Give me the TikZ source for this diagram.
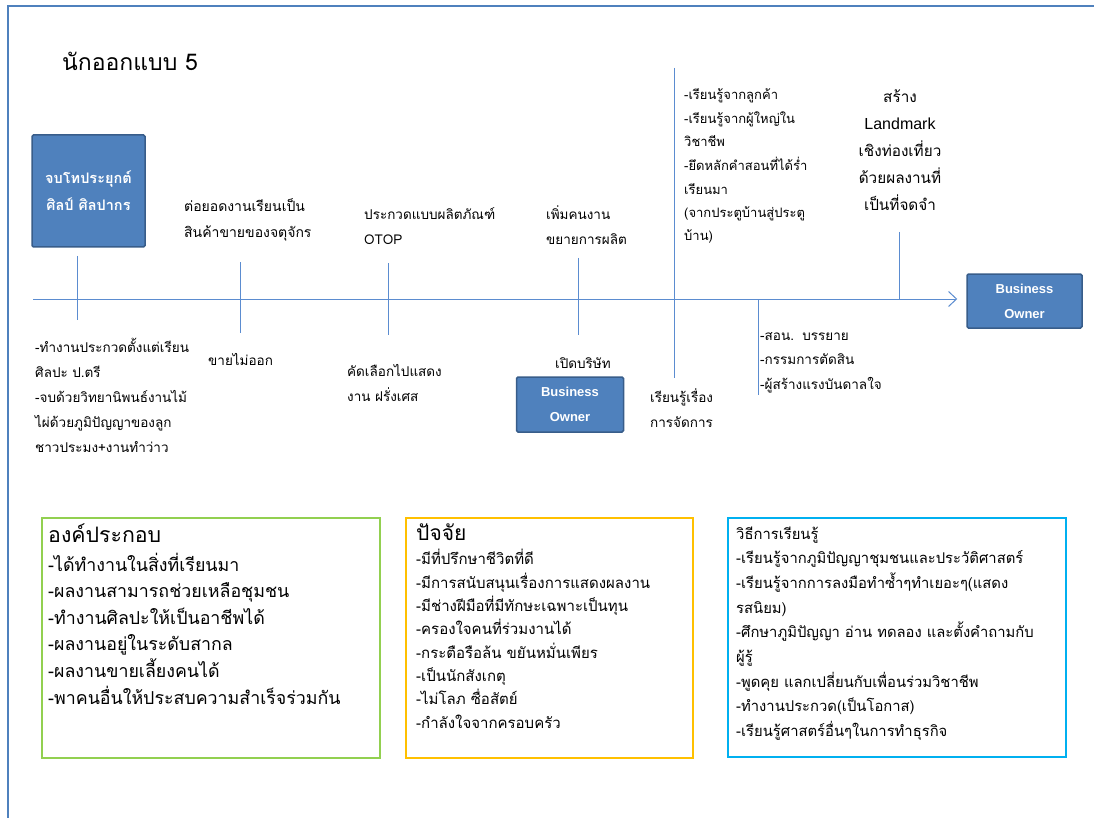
\documentclass[tikz,border=0pt]{standalone}
\usepackage{fontspec}
\newfontfamily\thaifont[Script=Thai]{Loma}
\newfontfamily\latinsans{Liberation Sans}
\usetikzlibrary{arrows.meta}

\definecolor{frameblue}{HTML}{4F81BD}
\definecolor{lineblue}{HTML}{5B8CD0}
\definecolor{boxfill}{HTML}{4F81BD}
\definecolor{boxedge}{HTML}{385D8A}
\definecolor{greenedge}{HTML}{92D050}
\definecolor{yellowedge}{HTML}{FFC000}
\definecolor{cyanedge}{HTML}{00B0F0}

% multi-line labels: the base anchor sits on the last line's baseline
\tikzset{
  ownerbox/.style={fill=boxfill, draw=boxedge, line width=1.5pt, rounded corners=1.5pt,
    text=white, align=center, inner sep=0pt,
    font=\latinsans\bfseries\fontsize{13}{25}\selectfont},
  tick/.style={draw=lineblue, line width=1pt},
  lbl/.style={anchor=base west, inner sep=0pt, align=left,
    font=\thaifont\fontsize{13.5}{25}\selectfont},
  clbl/.style={lbl, anchor=base, align=center},
  panel/.style={line width=1.7pt, fill=white},
}

\begin{document}
\begin{tikzpicture}[x=1pt, y=-1pt]
\useasboundingbox (0,0) rectangle (1094,818);
\fill[white] (0,0) rectangle (1094,818);

% page frame
\draw[frameblue, line width=2.5pt] (1094,6) -- (8,6) -- (8,818);

% heading
\node[lbl, font=\thaifont\fontsize{23}{26}\selectfont] (title) at (62,71) {นักออกแบบ 5};

% milestone boxes
\node[ownerbox, minimum width=113pt, minimum height=112pt, font=\thaifont\bfseries\fontsize{14.5}{27}\selectfont]
  (start) at (88.5,191) {จบโทประยุกต์\\ศิลป์ ศิลปากร};
\node[ownerbox, minimum width=115pt, minimum height=54pt] (endbox) at (1024.5,301) {Business\\Owner};
\node[ownerbox, minimum width=107pt, minimum height=55pt] (midbox) at (570,404.5) {Business\\Owner};

% time line
\coordinate (tl0) at (33,299);
\draw[draw=lineblue, line width=1pt, -{Straight Barb[length=8pt,width=15pt]}, shorten >=9pt]
  (tl0) -- (tl0 -| endbox.west);

% ticks
\foreach \n/\x/\ya/\yb in {a/77/256/320, b/240/262/333, c/388/263/335, d/578/258/335,
                           e/674/68/378, f/758/299/395, g/899/232/299}{
  \coordinate (tk\n1) at (\x,\ya);
  \coordinate (tk\n2) at (\x,\yb);
  \draw[tick] (tk\n1) -- (tk\n2);
}

% labels above the line
\node[lbl, font=\thaifont\fontsize{14}{25}\selectfont] (up1) at (184,237) {ต่อยอดงานเรียนเป็น\\สินค้าขายของจตุจักร};
\node[lbl] (up2) at (364,245) {ประกวดแบบผลิตภัณฑ์\\OTOP};
\node[lbl] (up3) at (546,245) {เพิ่มคนงาน\\ขยายการผลิต};
\node[lbl, font=\thaifont\fontsize{13}{23.5}\selectfont] (up4) at (684,241)
  {-เรียนรู้จากลูกค้า\\-เรียนรู้จากผู้ใหญ่ใน\\วิชาชีพ\\-ยึดหลักคำสอนที่ได้ร่ำ\\เรียนมา\\(จากประตูบ้านสู่ประตู\\บ้าน)};
\node[clbl, font=\thaifont\fontsize{15.3}{27}\selectfont] (up5) at (900,211)
  {สร้าง\\{\latinsans\fontsize{16}{27}\selectfont Landmark}\\เชิงท่องเที่ยว\\ด้วยผลงานที่\\เป็นที่จดจำ};

% labels below the line
\node[lbl] (dn1) at (35,452)
  {-ทำงานประกวดตั้งแต่เรียน\\ศิลปะ ป.ตรี\\-จบด้วยวิทยานิพนธ์งานไม้\\ไผ่ด้วยภูมิปัญญาของลูก\\ชาวประมง+งานทำว่าว};
\node[lbl] (dn2) at (208,365) {ขายไม่ออก};
\node[lbl] (dn3) at (347,401) {คัดเลือกไปแสดง\\งาน ฝรั่งเศส};
\node[clbl] (dn4) at (583,368) {เปิดบริษัท};
\node[lbl] (dn5) at (650,427) {เรียนรู้เรื่อง\\การจัดการ};
\node[lbl, font=\thaifont\fontsize{13.5}{24.5}\selectfont] (dn6) at (760,389)
  {-สอน.\, บรรยาย\\-กรรมการตัดสิน\\-ผู้สร้างแรงบันดาลใจ};

% summary panels
\node[panel, draw=greenedge, minimum width=338pt, minimum height=240pt, anchor=north west]
  (pg) at (41,517) {};
\node[panel, draw=yellowedge, minimum width=287pt, minimum height=240pt, anchor=north west]
  (py) at (405,517) {};
\node[panel, draw=cyanedge, minimum width=338pt, minimum height=239pt, anchor=north west]
  (pc) at (727,517) {};

\node[lbl, font=\thaifont\fontsize{21.3}{26}\selectfont] (pgt) at (48,542) {องค์ประกอบ};
\node[lbl, font=\thaifont\fontsize{17.8}{26.6}\selectfont] (pgi) at (48,704)
  {-ได้ทำงานในสิ่งที่เรียนมา\\-ผลงานสามารถช่วยเหลือชุมชน\\-ทำงานศิลปะให้เป็นอาชีพได้\\-ผลงานอยู่ในระดับสากล\\-ผลงานขายเลี้ยงคนได้\\-พาคนอื่นให้ประสบความสำเร็จร่วมกัน};

\node[lbl, font=\thaifont\fontsize{21}{26}\selectfont] (pyt) at (416,540) {ปัจจัย};
\node[lbl, font=\thaifont\fontsize{15}{23.3}\selectfont] (pyi) at (416,728)
  {-มีที่ปรึกษาชีวิตที่ดี\\-มีการสนับสนุนเรื่องการแสดงผลงาน\\-มีช่างฝีมือที่มีทักษะเฉพาะเป็นทุน\\-ครองใจคนที่ร่วมงานได้\\-กระตือรือล้น ขยันหมั่นเพียร\\-เป็นนักสังเกตุ\\-ไม่โลภ ซื่อสัตย์\\-กำลังใจจากครอบครัว};

\node[lbl, font=\thaifont\fontsize{14.8}{24.7}\selectfont] (pci) at (736,736.6)
  {วิธีการเรียนรู้\\-เรียนรู้จากภูมิปัญญาชุมชนและประวัติศาสตร์\\-เรียนรู้จากการลงมือทำซ้ำๆทำเยอะๆ(แสดง\\รสนิยม)\\-ศึกษาภูมิปัญญา อ่าน ทดลอง และตั้งคำถามกับ\\ผู้รู้\\-พูดคุย แลกเปลี่ยนกับเพื่อนร่วมวิชาชีพ\\-ทำงานประกวด(เป็นโอกาส)\\-เรียนรู้ศาสตร์อื่นๆในการทำธุรกิจ};
\end{tikzpicture}
\end{document}
